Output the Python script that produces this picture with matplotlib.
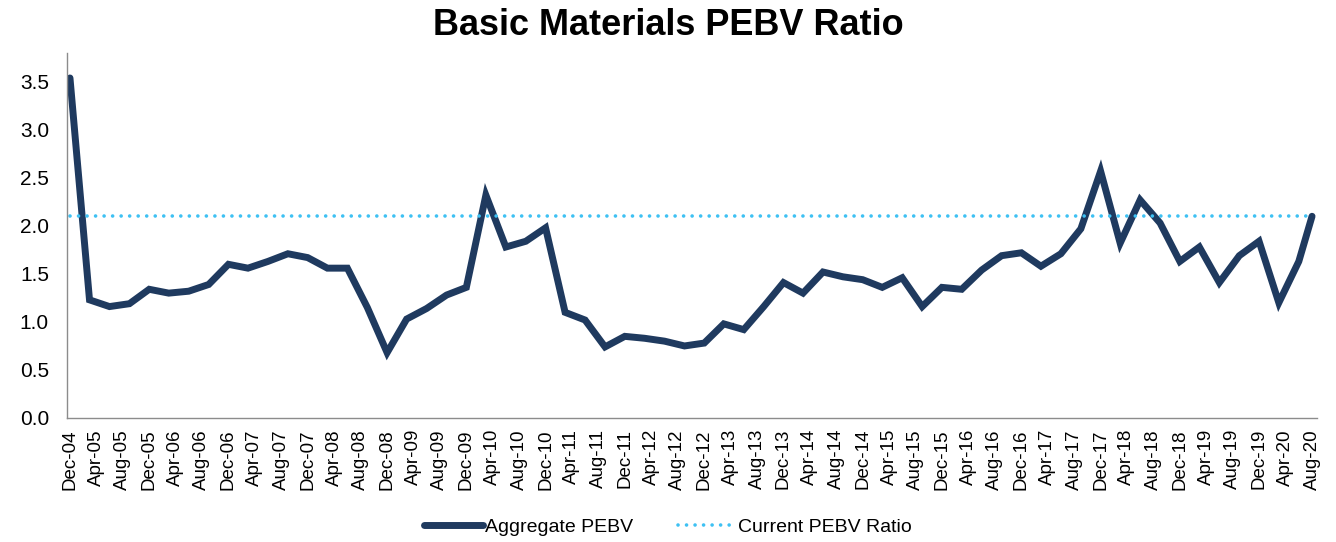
import pandas as pd
import matplotlib
matplotlib.use('Agg')
import matplotlib.pyplot as plt

# quarterly points Dec-04 .. Jun-20, plus the latest reading in Aug-20
dates = list(pd.date_range('2004-12-01', '2020-06-01', freq='3MS')) + [pd.Timestamp('2020-08-01')]

aggregate_pebv = [
    3.54, 1.23, 1.16, 1.19, 1.34, 1.30, 1.32, 1.39, 1.60, 1.56,
    1.63, 1.71, 1.67, 1.56, 1.56, 1.15, 0.68, 1.03, 1.14, 1.28,
    1.36, 2.32, 1.78, 1.84, 1.98, 1.10, 1.02, 0.74, 0.85, 0.83,
    0.80, 0.75, 0.78, 0.98, 0.92, 1.16, 1.41, 1.30, 1.52, 1.47,
    1.44, 1.36, 1.46, 1.16, 1.36, 1.34, 1.54, 1.69, 1.72, 1.58,
    1.71, 1.97, 2.57, 1.82, 2.27, 2.03, 1.63, 1.78, 1.41, 1.69,
    1.84, 1.20, 1.63, 2.10,
]
current_pebv = 2.10

tick_dates = pd.date_range('2004-12-01', '2020-08-01', freq='4MS')
tick_labels = [d.strftime('%b-%y') for d in tick_dates]

plt.rcParams['font.family'] = ['Liberation Sans', 'DejaVu Sans']

fig = plt.figure(figsize=(13.36, 5.42), dpi=100)
ax = fig.add_axes([0.0501, 0.2288, 0.9357, 0.6734])

ax.plot(dates, aggregate_pebv, color='#1f3a5f', lw=5.0,
        solid_joinstyle='miter', solid_capstyle='round', label='Aggregate PEBV')
ax.plot(dates, [current_pebv] * len(dates), color='#3ec1f3', lw=2.6,
        linestyle=(0, (0.01, 2.35)), dash_capstyle='round', label='Current PEBV Ratio')

ax.set_ylim(0, 3.8)
ax.set_yticks([0, 0.5, 1.0, 1.5, 2.0, 2.5, 3.0, 3.5])
ax.set_yticklabels(['%.1f' % v for v in ax.get_yticks()])
ax.set_xlim(pd.Timestamp('2004-11-17'), pd.Timestamp('2020-08-24'))
ax.set_xticks(tick_dates)
ax.set_xticklabels(tick_labels, rotation=90)

ax.tick_params(axis='y', length=0, pad=13, labelsize=15)
ax.tick_params(axis='x', length=0, pad=8, labelsize=13.5)
for side in ['top', 'right']:
    ax.spines[side].set_visible(False)
for side in ['left', 'bottom']:
    ax.spines[side].set_color('#8c8c8c')
    ax.spines[side].set_linewidth(1.0)

fig.suptitle('Basic Materials PEBV Ratio', fontsize=26, fontweight='bold', y=0.985, va='top')

fig.legend(loc='center', bbox_to_anchor=(0.5, 0.027), ncol=2, frameon=False,
           fontsize=14, handlelength=3.0, handletextpad=0.1, columnspacing=2.3)

fig.savefig('out.png', dpi=100)
